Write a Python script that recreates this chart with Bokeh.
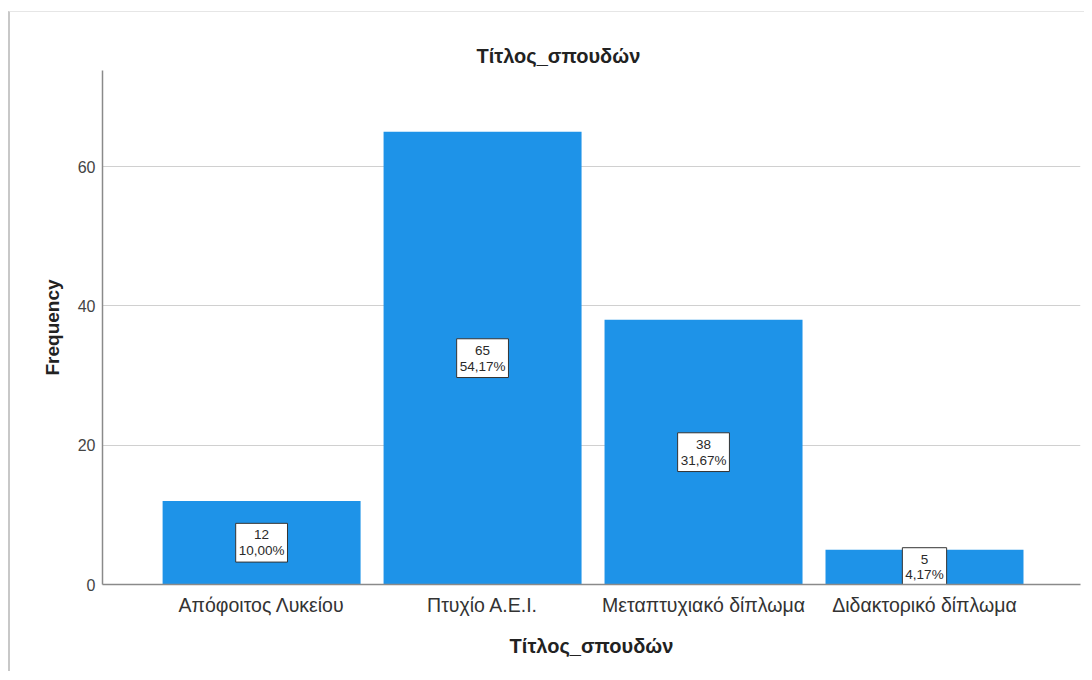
from bokeh.plotting import figure
from bokeh.models import Range1d, FixedTicker, ColumnDataSource
from bokeh.core.properties import value
from bokeh.embed import file_html
from bokeh.resources import INLINE

categories = ["Απόφοιτος Λυκείου", "Πτυχίο Α.Ε.Ι.", "Μεταπτυχιακό δίπλωμα", "Διδακτορικό δίπλωμα"]
counts = [12, 65, 38, 5]
percents = ["10,00%", "54,17%", "31,67%", "4,17%"]
y_ticks = [0, 20, 40, 60]

FONT = "Liberation Sans"
BAR = "#1E93E8"

xs = list(range(1, len(categories) + 1))
src = ColumnDataSource(dict(
    x=xs,
    top=counts,
    mid=[c / 2 for c in counts],
    lab=[f"{c}\n{p}" for c, p in zip(counts, percents)],
))

p = figure(width=1076, height=660, output_backend="svg", toolbar_location=None,
           x_range=Range1d(0.28, 4.706), y_range=Range1d(0, 73.8),
           min_border_left=92, min_border_right=6, min_border_top=58, min_border_bottom=88)
p.styles = {"border-left": "2px solid #c8c8c8", "border-top": "1px solid #e6e6e6",
            "margin-top": "11px", "margin-left": "8px"}
p.outline_line_color = None
p.background_fill_color = "white"
p.border_fill_color = "white"

p.title.text = "Τίτλος_σπουδών"
p.title.align = "left"
p.title.offset = 374
p.title.standoff = 7
p.title.text_font = FONT
p.title.text_font_style = "bold"
p.title.text_font_size = "20px"
p.title.text_color = "#222222"

p.vbar(x="x", top="top", width=0.896, source=src, fill_color=BAR, line_color=None)
p.text(x="x", y="mid", text="lab", source=src, text_align="center", text_baseline="middle",
       text_font=value(FONT), text_font_size="13.5px", text_color="#2a2a2a", text_line_height=1.05,
       background_fill_color="white", border_line_color="#333333", border_line_width=1,
       padding=[3, 4])

# axes
p.xaxis.ticker = FixedTicker(ticks=xs)
p.xaxis.major_label_overrides = {i: c for i, c in zip(xs, categories)}
p.yaxis.ticker = FixedTicker(ticks=y_ticks)
for ax in (p.xaxis[0], p.yaxis[0]):
    ax.axis_line_color = "#8a8a8a"
    ax.axis_line_width = 1.5
    ax.major_tick_line_color = None
    ax.minor_tick_line_color = None
    ax.major_tick_out = 0
    ax.major_tick_in = 0
    ax.minor_tick_out = 0
    ax.axis_label_text_font = FONT
    ax.axis_label_text_font_style = "bold"
    ax.axis_label_text_color = "#222222"
    ax.major_label_text_font = FONT

p.xaxis.axis_label = "Τίτλος_σπουδών"
p.xaxis.axis_label_text_font_size = "20px"
p.xaxis.major_label_text_font_size = "19.5px"
p.xaxis.major_label_text_color = "#333333"
p.xaxis.major_label_standoff = 9
p.xaxis.axis_label_standoff = 16

p.yaxis.axis_label = "Frequency"
p.yaxis.axis_label_text_font_size = "19px"
p.yaxis.major_label_text_font_size = "16px"
p.yaxis.major_label_text_color = "#444444"
p.yaxis.major_label_standoff = 7
p.yaxis.axis_label_standoff = 12

p.xgrid.grid_line_color = None
p.ygrid.ticker = FixedTicker(ticks=y_ticks)
p.ygrid.grid_line_color = "#d0d0d0"
p.ygrid.grid_line_width = 1

open("out.html", "w").write(file_html(p, INLINE))
